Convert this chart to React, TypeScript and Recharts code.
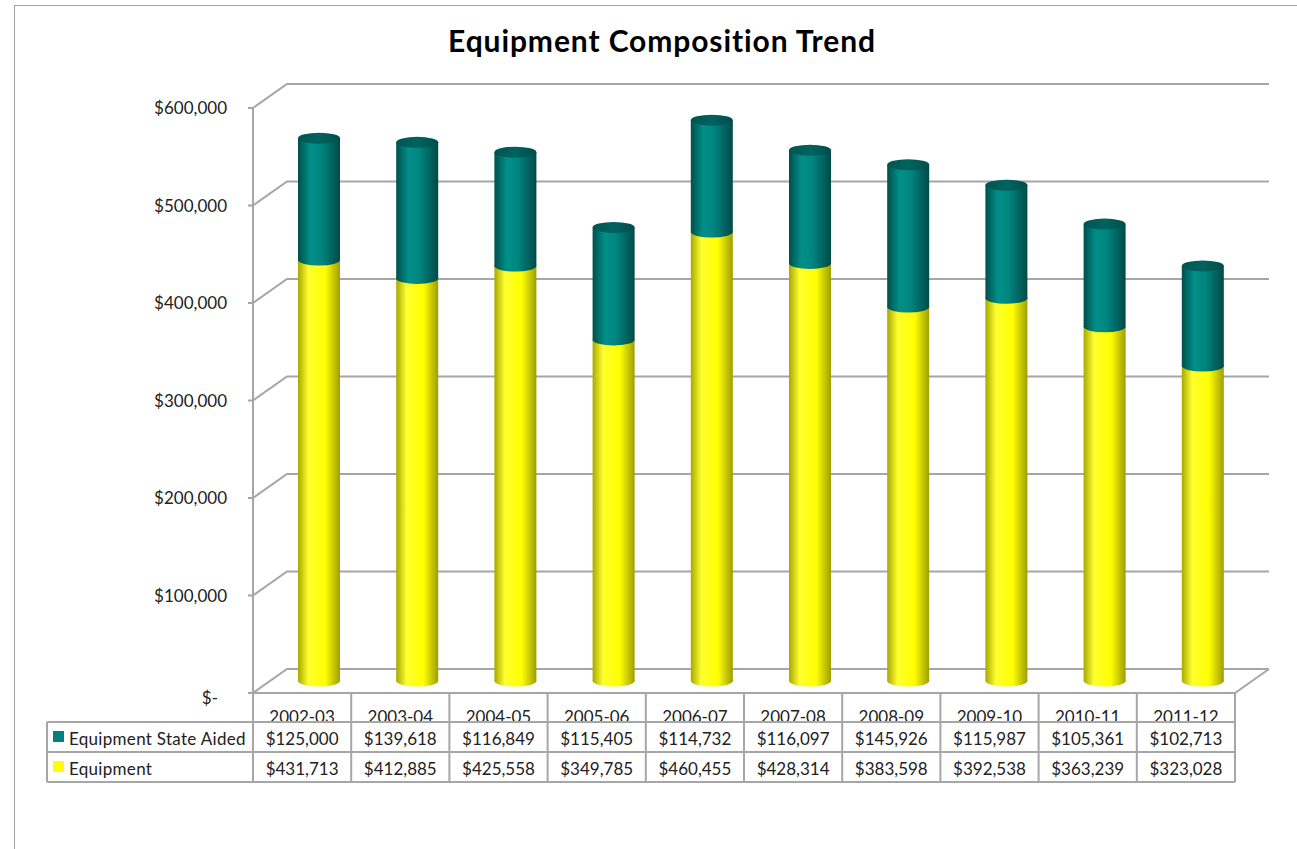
import React from 'react';
import { BarChart, Bar, XAxis, YAxis, CartesianGrid } from 'recharts';

const categories = ['2002-03', '2003-04', '2004-05', '2005-06', '2006-07', '2007-08', '2008-09', '2009-10', '2010-11', '2011-12'];
const stateAided = [125000, 139618, 116849, 115405, 114732, 116097, 145926, 115987, 105361, 102713];
const equipment = [431713, 412885, 425558, 349785, 460455, 428314, 383598, 392538, 363239, 323028];
const yTicks = [0, 100000, 200000, 300000, 400000, 500000, 600000];

const chartData = categories.map((year, i) => ({
  year,
  equipment: equipment[i],
  stateAided: stateAided[i]
}));

const FONT = 'Lato, "Liberation Sans", sans-serif';
const LINE = '#a6a6a6';

// plot geometry (front plane of the 3d box)
const PLOT_LEFT = 253;
const PLOT_RIGHT = 1235;
const PLOT_TOP = 108;
const PLOT_BOTTOM = 693;
const DEPTH_X = 34;
const DEPTH_Y = 24;
// bars sit half way into the depth
const BAR_DX = 17;
const BAR_DY = -12;
const CAP_RY = 5.5;

const money = (v: number) => '$' + v.toLocaleString('en-US');

function YTick(props: any) {
  const { x, y, payload } = props;
  if (payload.value === 0) {
    return (
      <text x={x - 28} y={y + 11} textAnchor="end" fontSize={17} fontFamily={FONT} fill="#222">$-</text>
    );
  }
  return (
    <text x={x - 19} y={y + 6} textAnchor="end" fontSize={17} fontFamily={FONT} fill="#222">
      {money(payload.value)}
    </text>
  );
}

function GridLine(props: any) {
  const { x1, y1, x2, y, height } = props;
  const isFloor = Math.abs(y1 - (y + height)) < 1;
  return (
    <g>
      <path
        d={`M${x1},${y1} L${x1 + DEPTH_X},${y1 - DEPTH_Y} L${x2 + DEPTH_X},${y1 - DEPTH_Y}`}
        stroke={LINE}
        strokeWidth={2}
        fill="none"
      />
      {isFloor && (
        <path
          d={`M${x1},${y1} L${x2},${y1} L${x2 + DEPTH_X},${y1 - DEPTH_Y}`}
          stroke={LINE}
          strokeWidth={2}
          fill="none"
        />
      )}
    </g>
  );
}

function makeCylinder(bodyId: string, capFill: string | null) {
  return function Cylinder(props: any) {
    const { x, y, width, height } = props;
    if (height == null || height <= 0) return null;
    const left = x + BAR_DX;
    const top = y + BAR_DY;
    const cx = left + width / 2;
    const rx = width / 2;
    return (
      <g>
        <rect x={left} y={top} width={width} height={height} fill={`url(#${bodyId})`} />
        <ellipse cx={cx} cy={top + height} rx={rx} ry={CAP_RY} fill={`url(#${bodyId})`} />
        {capFill && <ellipse cx={cx} cy={top} rx={rx} ry={CAP_RY} fill={capFill} />}
      </g>
    );
  };
}

const YellowCylinder = makeCylinder('yellowBody', null);
const TealCylinder = makeCylinder('tealBody', 'url(#tealCap)');

function DataTable() {
  const colW = (PLOT_RIGHT - PLOT_LEFT) / categories.length;
  const tableLeft = 47;
  const row1 = 722;
  const row2 = 752;
  const bottom = 782;
  const rows = [
    { label: 'Equipment State Aided', color: '#008080', values: stateAided, base: 745 },
    { label: 'Equipment', color: '#ffff00', values: equipment, base: 775 }
  ];
  return (
    <svg width={1297} height={849} style={{ position: 'absolute', left: 0, top: 0, pointerEvents: 'none' }}>
      <text x={662} y={52} textAnchor="middle" fontSize={30} letterSpacing={0.9} fontWeight="bold" fontFamily={FONT} fill="#000">
        Equipment Composition Trend
      </text>
      {categories.map((c, i) => (
        <text key={c} x={PLOT_LEFT + colW * (i + 0.5)} y={723} textAnchor="middle" fontSize={17} fontFamily={FONT} fill="#222">
          {c}
        </text>
      ))}
      {rows.map((r) => (
        <g key={r.label}>
          <rect x={53} y={r.base - 14} width={11} height={11} fill={r.color} />
          <text x={69} y={r.base} fontSize={17} letterSpacing={0.3} fontFamily={FONT} fill="#222">{r.label}</text>
          {r.values.map((v, i) => (
            <text key={i} x={PLOT_LEFT + colW * (i + 0.5)} y={r.base} textAnchor="middle" fontSize={17} fontFamily={FONT} fill="#222">
              {money(v)}
            </text>
          ))}
        </g>
      ))}
      <g stroke={LINE} strokeWidth={2} fill="none">
        {categories.map((c, i) => (
          <line key={c} x1={PLOT_LEFT + colW * i} y1={PLOT_BOTTOM} x2={PLOT_LEFT + colW * i} y2={bottom} />
        ))}
        <line x1={PLOT_RIGHT} y1={PLOT_BOTTOM} x2={PLOT_RIGHT} y2={bottom} />
        <line x1={tableLeft} y1={row1} x2={PLOT_RIGHT} y2={row1} />
        <line x1={tableLeft} y1={row2} x2={PLOT_RIGHT} y2={row2} />
        <line x1={tableLeft} y1={bottom} x2={PLOT_RIGHT} y2={bottom} />
        <line x1={tableLeft} y1={row1} x2={tableLeft} y2={bottom} />
      </g>
    </svg>
  );
}

export default function App() {
  return (
    <div style={{ position: 'absolute', left: 0, top: 0, width: 1297, height: 849, overflow: 'hidden', background: '#fff' }}>
      <div style={{ position: 'absolute', left: 14, top: 5, width: 1400, height: 900, border: '1px solid #a0a0a0' }} />
      <div style={{ position: 'absolute', left: 0, top: 0 }}>
        <BarChart
          width={1297}
          height={849}
          data={chartData}
          margin={{ top: PLOT_TOP, right: 1297 - PLOT_RIGHT, bottom: 849 - PLOT_BOTTOM, left: PLOT_LEFT - 80 }}
          barSize={42}
        >
          <defs>
            <linearGradient id="tealBody" x1="0" y1="0" x2="1" y2="0">
              <stop offset="0%" stopColor="#004f4c" />
              <stop offset="30%" stopColor="#009089" />
              <stop offset="55%" stopColor="#008580" />
              <stop offset="100%" stopColor="#004a47" />
            </linearGradient>
            <linearGradient id="tealCap" x1="0" y1="0" x2="1" y2="0">
              <stop offset="0%" stopColor="#005450" />
              <stop offset="50%" stopColor="#00635f" />
              <stop offset="100%" stopColor="#004d4a" />
            </linearGradient>
            <linearGradient id="yellowBody" x1="0" y1="0" x2="1" y2="0">
              <stop offset="0%" stopColor="#a8a800" />
              <stop offset="25%" stopColor="#ffff30" />
              <stop offset="65%" stopColor="#ffff00" />
              <stop offset="100%" stopColor="#9e9e00" />
            </linearGradient>
          </defs>
          <CartesianGrid vertical={false} horizontal={GridLine} />
          <XAxis dataKey="year" hide height={0} />
          <YAxis
            width={80}
            domain={[0, 600000]}
            ticks={yTicks}
            interval={0}
            axisLine={{ stroke: LINE, strokeWidth: 2 }}
            tickLine={{ stroke: LINE, strokeWidth: 2 }}
            tickSize={5}
            tick={YTick}
          />
          <Bar dataKey="equipment" stackId="a" shape={YellowCylinder} isAnimationActive={false} />
          <Bar dataKey="stateAided" stackId="a" shape={TealCylinder} isAnimationActive={false} />
        </BarChart>
      </div>
      <DataTable />
    </div>
  );
}
